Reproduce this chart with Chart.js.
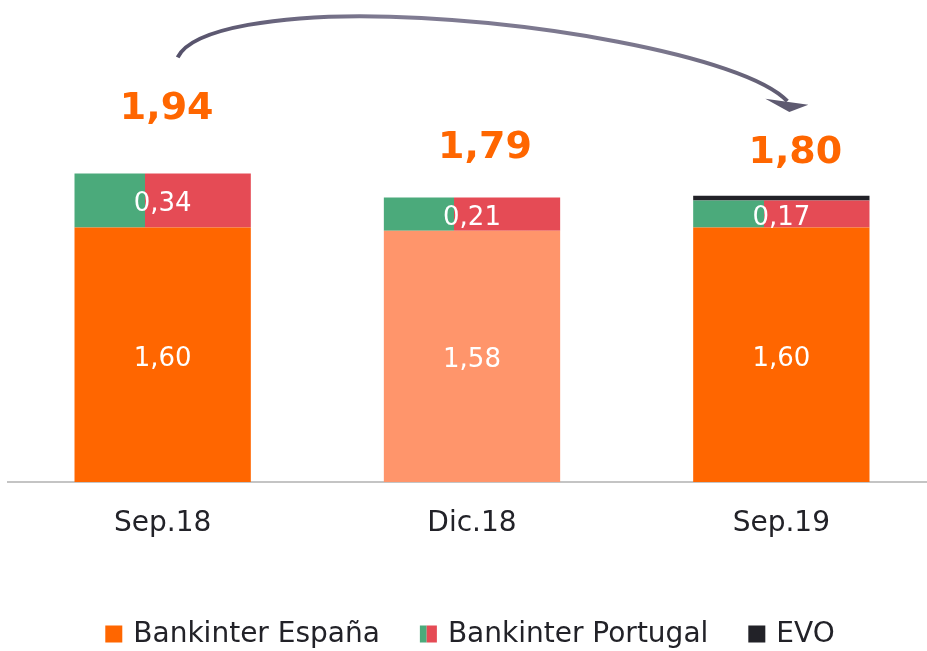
<!DOCTYPE html>
<html><head><meta charset="utf-8">
<script src="https://cdn.jsdelivr.net/npm/chart.js@4.4.0/dist/chart.umd.min.js"></script>
<style>
html,body{margin:0;padding:0;background:#fff;overflow:hidden;width:927px;height:651px}
#wrap{position:absolute;left:0;top:0;width:940px;height:651px}
</style>
</head><body><div id="wrap"><canvas id="c"></canvas></div>
<script>
// ---- data ----
const categories = ['Sep.18', 'Dic.18', 'Sep.19'];
const espana = [1.60, 1.58, 1.60];
const portugal = [0.34, 0.21, 0.17];
const evo = [0, 0, 0.03];
const totals = [1.94, 1.79, 1.80];
const seriesNames = ['Bankinter España', 'Bankinter Portugal', 'EVO'];

// ---- styles ----
const ORANGE = '#FF6600';
const ORANGE_LIGHT = '#FF956B';
const GREEN = '#4BAA7B';
const RED = '#E54B55';
const EVO_C = '#222228';
const BAR_PCT = 0.57;
const FONT = '"DejaVu Sans", sans-serif';
const totalOffsets = [64, 49, 43];
const totalShift = [4, 13, 14];

function fmt(v) { return v.toFixed(2).replace('.', ','); }

const portugalFill = (ctx) => {
  const chart = ctx.chart, xs = chart.scales && chart.scales.x;
  if (!xs || ctx.dataIndex === undefined || !chart.chartArea) return RED;
  const cx = xs.getPixelForValue(ctx.dataIndex);
  const w = xs.width / categories.length * BAR_PCT;
  const g = chart.ctx.createLinearGradient(cx - w / 2, 0, cx + w / 2, 0);
  g.addColorStop(0, GREEN); g.addColorStop(0.4, GREEN);
  g.addColorStop(0.4, RED); g.addColorStop(1, RED);
  return g;
};

const labelsPlugin = {
  id: 'labels',
  afterDatasetsDraw(chart) {
    const c = chart.ctx;
    c.save();
    c.textAlign = 'center'; c.textBaseline = 'middle';
    [0, 1].forEach(di => {
      const meta = chart.getDatasetMeta(di);
      meta.data.forEach((el, i) => {
        const v = chart.data.datasets[di].data[i];
        if (!v) return;
        c.fillStyle = '#FFFFFF';
        c.font = '26px ' + FONT;
        c.fillText(fmt(v), el.x, (el.y + el.base) / 2 + 4);
      });
    });
    // totals
    const top = chart.getDatasetMeta(2);
    top.data.forEach((el, i) => {
      c.fillStyle = ORANGE;
      c.font = 'bold 38px ' + FONT;
      c.fillText(fmt(totals[i]), el.x + totalShift[i], el.y - totalOffsets[i]);
    });
    // arrow (anchored to category positions)
    const xs = chart.scales.x, ys = chart.scales.y;
    const a = xs.getPixelForValue(0), b = xs.getPixelForValue(2);
    const P0 = [a + 15, ys.getPixelForValue(2.67)];
    const P1 = [a + 30, ys.getPixelForValue(2.87)];
    const P2 = [a + 127, ys.getPixelForValue(2.93)];
    const P3 = [a + 197, ys.getPixelForValue(2.93)];
    const P4 = [a + 357, ys.getPixelForValue(2.93)];
    const P5 = [b - 36, ys.getPixelForValue(2.68)];
    const P6 = [b + 6, ys.getPixelForValue(2.395)];
    const grad = c.createLinearGradient(P0[0], 0, P6[0], 0);
    grad.addColorStop(0, '#55516A'); grad.addColorStop(0.35, '#807C93');
    grad.addColorStop(0.8, '#7A768C'); grad.addColorStop(1, '#5E5A70');
    c.strokeStyle = grad; c.lineCap = 'butt'; c.lineWidth = 4;
    c.beginPath();
    c.moveTo(P0[0], P0[1]);
    c.bezierCurveTo(P1[0], P1[1], P2[0], P2[1], P3[0], P3[1]);
    c.bezierCurveTo(P4[0], P4[1], P5[0], P5[1], P6[0], P6[1]);
    c.stroke();
    // arrow head
    c.fillStyle = '#5E5A70';
    c.beginPath();
    c.moveTo(b - 16, ys.getPixelForValue(2.41));
    c.lineTo(b + 27, ys.getPixelForValue(2.372));
    c.lineTo(b + 8, ys.getPixelForValue(2.327));
    c.closePath(); c.fill();
    c.restore();
  },
  afterDraw(chart) {
    // legend
    const c = chart.ctx;
    c.save();
    c.font = '28px ' + FONT;
    c.textBaseline = 'middle';
    const box = 17, gapIcon = 11, gapItem = 40, y = 635;
    const widths = seriesNames.map(n => box + gapIcon + c.measureText(n).width);
    const total = widths.reduce((a, b) => a + b, 0) + gapItem * (seriesNames.length - 1);
    let x = 470 - total / 2;
    seriesNames.forEach((n, i) => {
      const by = y - box / 2 - 1;
      if (i === 0) { c.fillStyle = ORANGE; c.fillRect(x, by, box, box); }
      else if (i === 1) {
        c.fillStyle = GREEN; c.fillRect(x, by, box * 0.4, box);
        c.fillStyle = RED; c.fillRect(x + box * 0.4, by, box * 0.6, box);
      } else { c.fillStyle = EVO_C; c.fillRect(x, by, box, box); }
      c.fillStyle = '#222228';
      c.fillText(n, x + box + gapIcon, y);
      x += widths[i] + gapItem;
    });
    c.restore();
  }
};

new Chart(document.getElementById('c'), {
  type: 'bar',
  data: {
    labels: categories,
    datasets: [
      { label: seriesNames[0], data: espana, backgroundColor: [ORANGE, ORANGE_LIGHT, ORANGE] },
      { label: seriesNames[1], data: portugal, backgroundColor: portugalFill },
      { label: seriesNames[2], data: evo, backgroundColor: EVO_C }
    ]
  },
  options: {
    responsive: true, maintainAspectRatio: false, animation: false,
    layout: { padding: { left: 8, right: 4, top: 5, bottom: 0 } },
    datasets: { bar: { barPercentage: BAR_PCT, categoryPercentage: 1, borderWidth: 0 } },
    plugins: { legend: { display: false }, tooltip: { enabled: false } },
    scales: {
      x: {
        stacked: true,
        grid: { display: false, drawTicks: false },
        border: { display: true, color: '#C4C4C4', width: 2 },
        ticks: { color: '#222228', font: { family: FONT, size: 28 }, padding: 25 },
        afterFit: (s) => { s.height = 169; }
      },
      y: { stacked: true, display: false, min: 0, max: 3 }
    }
  },
  plugins: [labelsPlugin]
});
</script></body></html>
